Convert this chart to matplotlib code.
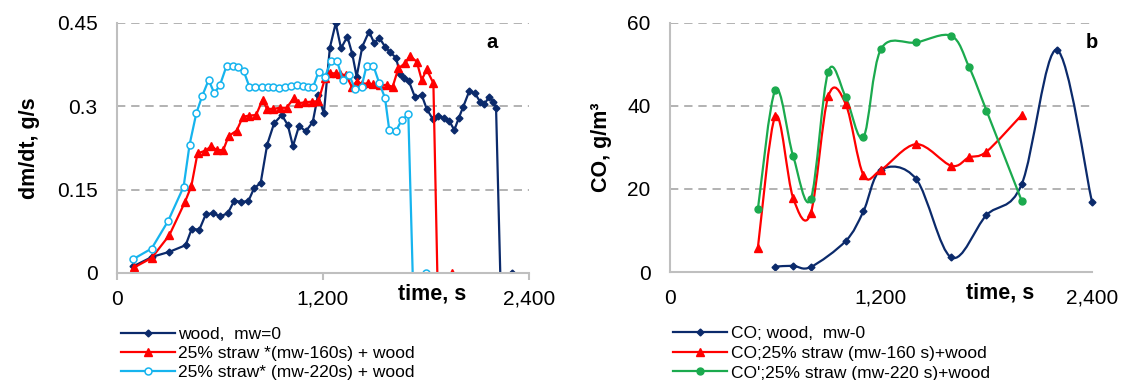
import matplotlib
matplotlib.use("Agg")
import matplotlib.pyplot as plt
from matplotlib.path import Path
from matplotlib.patches import PathPatch
from matplotlib.lines import Line2D
from matplotlib.ticker import FixedLocator, FixedFormatter

plt.rcParams["font.family"] = ["Liberation Sans", "DejaVu Sans"]

# ---- panel a: mass loss rate, g/s ----
wood_t = [95, 205, 305, 400, 435, 480, 518, 561, 600, 645, 683, 720, 765, 798,
          837, 875, 915, 960, 995, 1025, 1060, 1100, 1140, 1171, 1205, 1240,
          1274, 1305, 1342, 1371, 1396, 1429, 1468, 1499, 1528, 1561, 1590,
          1625, 1650, 1672, 1700, 1736, 1775, 1804, 1839, 1872, 1905, 1936,
          1965, 1990, 2017, 2052, 2085, 2115, 2138, 2169, 2192, 2208, 2235, 2300]
wood_m = [0.012, 0.029, 0.038, 0.050, 0.079, 0.078, 0.106, 0.107, 0.102, 0.107,
          0.130, 0.128, 0.129, 0.152, 0.162, 0.231, 0.269, 0.284, 0.266, 0.228,
          0.264, 0.255, 0.271, 0.320, 0.287, 0.405, 0.449, 0.404, 0.425, 0.393,
          0.353, 0.407, 0.434, 0.413, 0.423, 0.407, 0.397, 0.387, 0.357, 0.350,
          0.345, 0.316, 0.320, 0.295, 0.277, 0.283, 0.279, 0.273, 0.257, 0.278,
          0.299, 0.327, 0.323, 0.308, 0.303, 0.317, 0.307, 0.297, -0.03, 0.0]

s160_t = [100, 202, 305, 395, 433, 469, 515, 550, 581, 619, 650, 697, 734, 770,
          810, 848, 874, 910, 949, 988, 1029, 1056, 1095, 1134, 1173, 1212,
          1241, 1276, 1299, 1334, 1367, 1396, 1430, 1464, 1493, 1532, 1571,
          1606, 1639, 1678, 1707, 1746, 1775, 1804, 1843, 1868, 1950]
s160_m = [0.010, 0.027, 0.068, 0.127, 0.156, 0.215, 0.220, 0.228, 0.221, 0.221,
          0.246, 0.256, 0.281, 0.283, 0.284, 0.311, 0.295, 0.295, 0.297, 0.297,
          0.314, 0.305, 0.307, 0.308, 0.309, 0.350, 0.359, 0.359, 0.357, 0.356,
          0.335, 0.344, 0.340, 0.341, 0.339, 0.338, 0.338, 0.335, 0.368, 0.377,
          0.390, 0.380, 0.347, 0.366, 0.341, -0.03, 0.0]

s220_t = [95, 202, 297, 388, 423, 462, 496, 534, 567, 600, 639, 673, 705, 738,
          771, 804, 843, 881, 910, 945, 979, 1014, 1047, 1082, 1114, 1143, 1175,
          1212, 1247, 1282, 1315, 1353, 1386, 1425, 1454, 1493, 1528, 1561,
          1586, 1625, 1658, 1697, 1725, 1798]
s220_m = [0.025, 0.044, 0.093, 0.155, 0.231, 0.287, 0.318, 0.347, 0.323, 0.338,
          0.373, 0.373, 0.371, 0.363, 0.335, 0.335, 0.335, 0.335, 0.334, 0.333,
          0.335, 0.336, 0.338, 0.336, 0.335, 0.335, 0.362, 0.353, 0.381, 0.381,
          0.347, 0.356, 0.331, 0.335, 0.373, 0.373, 0.341, 0.315, 0.257, 0.255,
          0.275, 0.285, -0.03, 0.0]

# ---- panel b: CO, g/m3 ----
co_wood_t = [600, 700, 800, 1000, 1100, 1200, 1400, 1600, 1800, 2000, 2200, 2400]
co_wood = [1.3, 1.5, 1.2, 7.5, 14.6, 24.6, 22.4, 3.5, 13.7, 21.1, 53.5, 16.9]
co_160_t = [500, 600, 700, 800, 900, 1000, 1100, 1200, 1400, 1600, 1700, 1800, 2000]
co_160 = [5.9, 37.6, 17.9, 14.1, 42.3, 40.4, 23.4, 24.6, 30.8, 25.6, 27.6, 29.0, 37.8]
co_220_t = [500, 600, 700, 800, 900, 1000, 1100, 1200, 1400, 1600, 1700, 1800, 2000]
co_220 = [15.2, 43.9, 28.0, 17.5, 48.3, 42.1, 32.5, 53.7, 55.3, 56.9, 49.5, 38.9, 17.2]

labels_a = ["wood,  mw=0", "25% straw *(mw-160s) + wood", "25% straw* (mw-220s) + wood"]
labels_b = ["CO; wood,  mw-0", "CO;25% straw (mw-160 s)+wood", "CO';25% straw (mw-220 s)+wood"]

NAVY = "#0B2A6B"
RED = "#FF0000"
CYAN = "#16B4EE"
GREEN = "#1BAA4E"
GRID = "#A6A6A6"
SPINE = "#BFBFBF"

TICK_FS = 15
LABEL_FS = 15.5
LEG_FS = 12.5


def smooth_path(x, y):
    # excel-like smoothed line: cubic bezier through every point
    n = len(x)
    verts = [(x[0], y[0])]
    codes = [Path.MOVETO]
    for i in range(n - 1):
        a = i - 1 if i > 0 else i
        d = i + 2 if i + 2 < n else i + 1
        c1 = (x[i] + (x[i + 1] - x[a]) / 6, y[i] + (y[i + 1] - y[a]) / 6)
        c2 = (x[i + 1] - (x[d] - x[i]) / 6, y[i + 1] - (y[d] - y[i]) / 6)
        verts += [c1, c2, (x[i + 1], y[i + 1])]
        codes += [Path.CURVE4] * 3
    return Path(verts, codes)


def style_axes(ax):
    for s in ["top", "right"]:
        ax.spines[s].set_visible(False)
    for s in ["left", "bottom"]:
        ax.spines[s].set_color(SPINE)
        ax.spines[s].set_linewidth(1.5)
    ax.grid(axis="y", color=GRID, linestyle=(0, (5, 3.5)), linewidth=1.2)
    ax.set_axisbelow(True)
    ax.tick_params(axis="y", length=0, pad=14, labelsize=TICK_FS)
    ax.set_xlim(0, 2400)
    ax.xaxis.set_major_locator(FixedLocator([0, 1200, 2400]))
    ax.xaxis.set_major_formatter(FixedFormatter(["0", "1,200", "2,400"]))


fig = plt.figure(figsize=(11.27, 3.8), dpi=100)

# panel a
ax = fig.add_axes([0.1038, 0.2816, 0.3656, 0.6587])
style_axes(ax)
ax.tick_params(axis="x", length=5, width=1.5, color=SPINE, pad=7, labelsize=TICK_FS)
ax.plot(wood_t, wood_m, color=NAVY, lw=1.6, marker="D", ms=3.5, label=labels_a[0])
ax.plot(s160_t, s160_m, color=RED, lw=1.6, marker="^", ms=6, label=labels_a[1])
ax.plot(s220_t, s220_m, color=CYAN, lw=1.6, marker="o", ms=5, mfc="white",
        mew=1.1, label=labels_a[2])
ax.set_ylim(0, 0.45)
ax.yaxis.set_major_locator(FixedLocator([0, 0.15, 0.3, 0.45]))
ax.yaxis.set_major_formatter(FixedFormatter(["0", "0.15", "0.3", "0.45"]))
ax.set_ylabel("dm/dt, g/s", fontsize=LABEL_FS, fontweight="bold", labelpad=12)
ax.text(0.765, -0.085, "time, s", transform=ax.transAxes, fontsize=LABEL_FS,
        fontweight="bold", ha="center", va="center")
ax.text(0.91, 0.92, "a", transform=ax.transAxes, fontsize=14.5,
        fontweight="bold", ha="center", va="center")
h, l = ax.get_legend_handles_labels()
fig.legend(h, l, loc="upper left", bbox_to_anchor=(0.1074, 0.139),
           frameon=False, fontsize=LEG_FS, handlelength=3.1, handletextpad=0.2,
           labelspacing=0.2, borderaxespad=0, borderpad=0)

# panel b
bx = fig.add_axes([0.5945, 0.2842, 0.3744, 0.6553])
style_axes(bx)
bx.tick_params(axis="x", length=0, pad=12, labelsize=TICK_FS)
series_b = [(co_wood_t, co_wood, NAVY, "D", 3.5),
            (co_160_t, co_160, RED, "^", 6),
            (co_220_t, co_220, GREEN, "o", 5)]
handles_b = []
for (t, v, c, m, ms), lab in zip(series_b, labels_b):
    bx.add_patch(PathPatch(smooth_path(t, v), facecolor="none", edgecolor=c,
                           lw=1.6, clip_on=False))
    bx.plot(t, v, linestyle="none", marker=m, ms=ms, color=c, clip_on=False)
    handles_b.append(Line2D([], [], color=c, lw=1.6, marker=m, ms=ms))
bx.set_ylim(0, 60)
bx.yaxis.set_major_locator(FixedLocator([0, 20, 40, 60]))
bx.set_ylabel("CO, g/m³", fontsize=LABEL_FS, fontweight="bold", labelpad=11)
bx.text(0.782, -0.085, "time, s", transform=bx.transAxes, fontsize=LABEL_FS,
        fontweight="bold", ha="center", va="center")
bx.text(1.0, 0.92, "b", transform=bx.transAxes, fontsize=14.5,
        fontweight="bold", ha="center", va="center")
fig.legend(handles_b, labels_b, loc="upper left", bbox_to_anchor=(0.5976, 0.142),
           frameon=False, fontsize=LEG_FS, handlelength=3.1, handletextpad=0.2,
           labelspacing=0.26, borderaxespad=0, borderpad=0)

fig.savefig("out.png", dpi=100)
